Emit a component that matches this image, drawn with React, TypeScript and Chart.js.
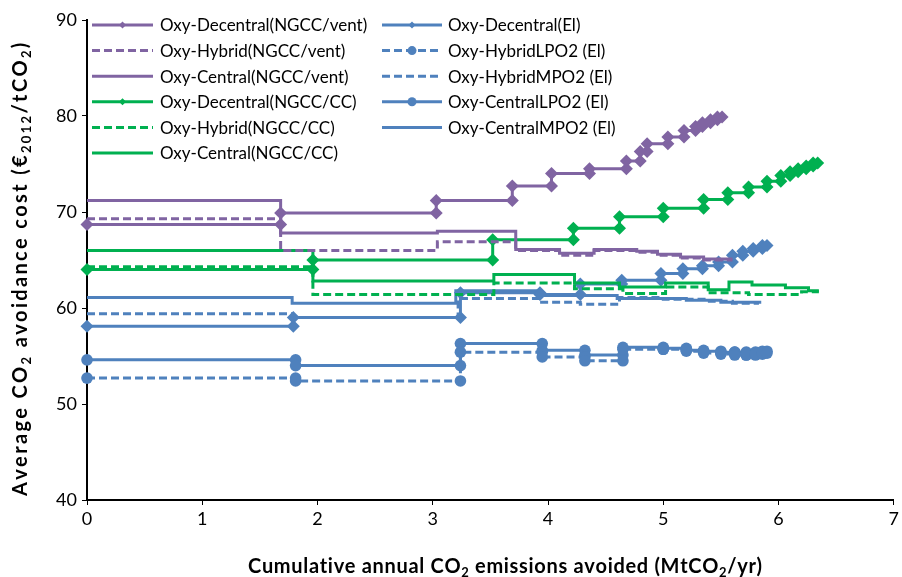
import React, { useEffect, useRef } from 'react';
import { Chart, registerables } from 'chart.js';

Chart.register(...registerables);

const PURPLE = '#8064A2';
const GREEN = '#00B050';
const BLUE = '#4F81BD';
const FONT = 'Lato, "Open Sans", sans-serif';

// Axis ticks
const X_TICKS = [0, 1, 2, 3, 4, 5, 6, 7];
const Y_TICKS = [40, 50, 60, 70, 80, 90];

// Step boundaries (x, MtCO2/yr) and step levels (y, €/tCO2) per series
const decVentX = [0, 1.68, 3.03, 3.69, 4.03, 4.36, 4.68, 4.8, 4.86, 5.04, 5.18, 5.28, 5.34, 5.41, 5.47, 5.51];
const decVentY = [68.7, 69.9, 71.2, 72.7, 74.0, 74.5, 75.3, 76.3, 77.1, 77.8, 78.5, 78.9, 79.3, 79.6, 79.9];

const hybVentX = [0, 1.68, 3.04, 3.72, 4.1, 4.4, 4.77, 4.95, 5.15, 5.35, 5.6];
const hybVentY = [69.3, 66.0, 66.9, 66.0, 65.5, 66.0, 65.8, 65.5, 65.2, 65.0];

const cenVentX = [0, 1.68, 3.04, 3.72, 4.1, 4.4, 4.77, 4.95, 5.15, 5.35, 5.6];
const cenVentY = [71.2, 67.8, 68.0, 66.1, 65.7, 66.1, 65.9, 65.6, 65.3, 65.1];

const decCCX = [0, 1.96, 3.52, 4.22, 4.62, 5.0, 5.35, 5.56, 5.74, 5.9, 6.02, 6.1, 6.17, 6.24, 6.3, 6.34];
const decCCY = [64.0, 65.0, 67.1, 68.3, 69.5, 70.4, 71.3, 72.0, 72.6, 73.2, 73.8, 74.2, 74.5, 74.8, 75.1];

const hybCCX = [0, 1.96, 3.53, 4.23, 4.65, 5.02, 5.39, 5.74, 6.2, 6.35];
const hybCCY = [64.3, 61.4, 62.6, 62.0, 61.5, 62.2, 61.6, 61.4, 61.7];

const cenCCX = [0, 1.96, 3.53, 4.23, 4.62, 5.02, 5.39, 5.57, 5.77, 6.06, 6.26, 6.35];
const cenCCY = [66.0, 62.8, 63.5, 62.6, 62.2, 62.6, 61.9, 62.7, 62.4, 62.1, 61.8];

const decElX = [0, 1.79, 3.24, 3.93, 4.28, 4.64, 4.98, 5.17, 5.34, 5.48, 5.6, 5.69, 5.78, 5.86, 5.9];
const decElY = [58.1, 59.0, 61.6, 61.4, 62.5, 62.9, 63.6, 64.1, 64.4, 64.8, 65.5, 65.9, 66.2, 66.5];

const hybLpoX = [0, 1.81, 3.24, 3.95, 4.32, 4.65, 5.0, 5.2, 5.35, 5.5, 5.62, 5.72, 5.8, 5.86, 5.9];
const hybLpoY = [52.7, 52.4, 55.4, 54.9, 54.5, 55.7, 55.7, 55.5, 55.3, 55.2, 55.1, 55.1, 55.2, 55.3];

const hybMpoX = [0, 1.78, 3.22, 3.93, 4.28, 4.62, 5.0, 5.4, 5.6, 5.83];
const hybMpoY = [59.4, 59.0, 61.0, 60.6, 60.4, 61.1, 60.9, 60.7, 60.5];

const cenLpoX = [0, 1.81, 3.24, 3.95, 4.32, 4.65, 5.0, 5.2, 5.35, 5.5, 5.62, 5.72, 5.8, 5.86, 5.9];
const cenLpoY = [54.6, 54.0, 56.3, 55.6, 55.1, 55.9, 55.8, 55.6, 55.5, 55.4, 55.4, 55.3, 55.4, 55.5];

const cenMpoX = [0, 1.78, 3.2, 3.93, 4.6, 5.2, 5.5, 5.85];
const cenMpoY = [61.1, 60.5, 61.8, 61.3, 61.0, 60.8, 60.6];

const LABELS = [
  'Oxy-Decentral(NGCC/vent)',
  'Oxy-Hybrid(NGCC/vent)',
  'Oxy-Central(NGCC/vent)',
  'Oxy-Decentral(NGCC/CC)',
  'Oxy-Hybrid(NGCC/CC)',
  'Oxy-Central(NGCC/CC)',
  'Oxy-Decentral(El)',
  'Oxy-HybridLPO2 (El)',
  'Oxy-HybridMPO2 (El)',
  'Oxy-CentralLPO2 (El)',
  'Oxy-CentralMPO2 (El)',
];

type Seg = { t: string; sub?: boolean };
const X_TITLE: Seg[] = [
  { t: 'Cumulative annual CO' }, { t: '2', sub: true },
  { t: ' emissions avoided (MtCO' }, { t: '2', sub: true }, { t: '/yr)' },
];
const Y_TITLE: Seg[] = [
  { t: 'Average CO' }, { t: '2', sub: true }, { t: ' avoidance cost (€' },
  { t: '2012', sub: true }, { t: '/tCO' }, { t: '2', sub: true }, { t: ')' },
];

function steps(xs: number[], ys: number[]) {
  const pts: { x: number; y: number }[] = [];
  for (let i = 0; i < ys.length; i++) {
    pts.push({ x: xs[i], y: ys[i] });
    pts.push({ x: xs[i + 1], y: ys[i] });
  }
  return pts;
}

type Spec = {
  xs: number[];
  ys: number[];
  color: string;
  dash: boolean;
  marker: '' | 'rectRot' | 'circle';
};

const SPECS: Spec[] = [
  { xs: decVentX, ys: decVentY, color: PURPLE, dash: false, marker: 'rectRot' },
  { xs: hybVentX, ys: hybVentY, color: PURPLE, dash: true, marker: '' },
  { xs: cenVentX, ys: cenVentY, color: PURPLE, dash: false, marker: '' },
  { xs: decCCX, ys: decCCY, color: GREEN, dash: false, marker: 'rectRot' },
  { xs: hybCCX, ys: hybCCY, color: GREEN, dash: true, marker: '' },
  { xs: cenCCX, ys: cenCCY, color: GREEN, dash: false, marker: '' },
  { xs: decElX, ys: decElY, color: BLUE, dash: false, marker: 'rectRot' },
  { xs: hybLpoX, ys: hybLpoY, color: BLUE, dash: true, marker: 'circle' },
  { xs: hybMpoX, ys: hybMpoY, color: BLUE, dash: true, marker: '' },
  { xs: cenLpoX, ys: cenLpoY, color: BLUE, dash: false, marker: 'circle' },
  { xs: cenMpoX, ys: cenMpoY, color: BLUE, dash: false, marker: '' },
];

const DASH = [8, 4];

function drawRich(ctx: CanvasRenderingContext2D, segs: Seg[], cx: number, cy: number, size: number, targetW: number) {
  const main = `bold ${size}px ${FONT}`;
  const sub = `bold ${Math.round(size * 0.66)}px ${FONT}`;
  let w = 0;
  let n = 0;
  segs.forEach((s) => {
    ctx.font = s.sub ? sub : main;
    w += ctx.measureText(s.t).width;
    n += s.t.length;
  });
  const sp = Math.max(0, (targetW - w) / (n - 1));
  let x = cx - (w + sp * (n - 1)) / 2;
  ctx.textBaseline = 'alphabetic';
  ctx.textAlign = 'left';
  segs.forEach((s) => {
    ctx.font = s.sub ? sub : main;
    for (const ch of s.t) {
      ctx.fillText(ch, x, s.sub ? cy + size * 0.22 : cy);
      x += ctx.measureText(ch).width + sp;
    }
  });
}

const decorPlugin = {
  id: 'decor',
  afterDraw(chart: any) {
    const ctx: CanvasRenderingContext2D = chart.ctx;
    ctx.save();
    // axis titles
    ctx.fillStyle = '#000';
    drawRich(ctx, X_TITLE, 504, 573, 20, 512);
    ctx.save();
    ctx.translate(27, 271);
    ctx.rotate(-Math.PI / 2);
    drawRich(ctx, Y_TITLE, 0, 0, 20, 450);
    ctx.restore();

    // legend
    const rowH = 25.6;
    const top = 25;
    SPECS.forEach((s, i) => {
      const col = i < 6 ? 0 : 1;
      const row = col === 0 ? i : i - 6;
      const y = top + row * rowH;
      const x0 = col === 0 ? 92 : 382;
      const x1 = col === 0 ? 153 : 442;
      const tx = col === 0 ? 160 : 448;
      ctx.strokeStyle = s.color;
      ctx.lineWidth = 3;
      ctx.setLineDash(s.dash ? DASH : []);
      ctx.beginPath();
      ctx.moveTo(x0, y);
      ctx.lineTo(x1, y);
      ctx.stroke();
      ctx.setLineDash([]);
      const cx = (x0 + x1) / 2;
      ctx.fillStyle = s.color;
      if (s.marker === 'rectRot') {
        const r = 3.5;
        ctx.beginPath();
        ctx.moveTo(cx, y - r);
        ctx.lineTo(cx + r, y);
        ctx.lineTo(cx, y + r);
        ctx.lineTo(cx - r, y);
        ctx.closePath();
        ctx.fill();
      } else if (s.marker === 'circle') {
        ctx.beginPath();
        ctx.arc(cx, y, 4.5, 0, Math.PI * 2);
        ctx.fill();
      }
      ctx.fillStyle = '#000';
      ctx.font = `17px ${FONT}`;
      ctx.textBaseline = 'middle';
      ctx.textAlign = 'left';
      ctx.fillText(LABELS[i], tx, y + 1);
    });
    ctx.restore();
  },
};

export default function App() {
  const ref = useRef<HTMLCanvasElement>(null);
  useEffect(() => {
    if (!ref.current) return;
    const datasets = SPECS.map((s, i) => ({
      label: LABELS[i],
      data: steps(s.xs, s.ys),
      showLine: true,
      borderColor: s.color,
      backgroundColor: s.color,
      borderWidth: 3,
      borderDash: s.dash ? DASH : [],
      pointStyle: s.marker || 'circle',
      pointRadius: s.marker === 'rectRot' ? 6.5 : s.marker === 'circle' ? 5.8 : 0,
      pointBorderWidth: 0,
      pointBackgroundColor: s.color,
      tension: 0,
      clip: false,
    }));
    const chart = new Chart(ref.current, {
      type: 'scatter',
      data: { datasets },
      plugins: [decorPlugin],
      options: {
        animation: false,
        responsive: false,
        events: [],
        layout: { padding: { top: 20, right: 3, left: 0, bottom: 0 } },
        plugins: { legend: { display: false }, tooltip: { enabled: false } },
        scales: {
          x: {
            type: 'linear',
            min: 0,
            max: 7,
            afterBuildTicks: (scale: any) => {
              scale.ticks = X_TICKS.map((v) => ({ value: v }));
            },
            afterFit: (scale: any) => {
              scale.height = 77;
            },
            ticks: { color: '#000', font: { size: 18, family: FONT }, padding: 3 },
            grid: { drawOnChartArea: false, drawTicks: true, tickLength: 5, color: '#000' },
            border: { display: true, color: '#000', width: 2 },
            title: { display: false },
          },
          y: {
            type: 'linear',
            min: 40,
            max: 90,
            afterBuildTicks: (scale: any) => {
              scale.ticks = Y_TICKS.map((v) => ({ value: v }));
            },
            afterFit: (scale: any) => {
              scale.width = 87;
            },
            ticks: { color: '#000', font: { size: 18, family: FONT }, padding: 5 },
            grid: { drawOnChartArea: false, drawTicks: true, tickLength: 5, color: '#000' },
            border: { display: true, color: '#000', width: 2 },
            title: { display: false },
          },
        },
      },
    } as any);
    return () => chart.destroy();
  }, []);
  return (
    <div style={{ position: 'fixed', left: 0, top: 0, width: 902, height: 577, background: '#fff' }}>
      <canvas ref={ref} width={902} height={577} style={{ width: 902, height: 577, display: 'block' }} />
    </div>
  );
}
